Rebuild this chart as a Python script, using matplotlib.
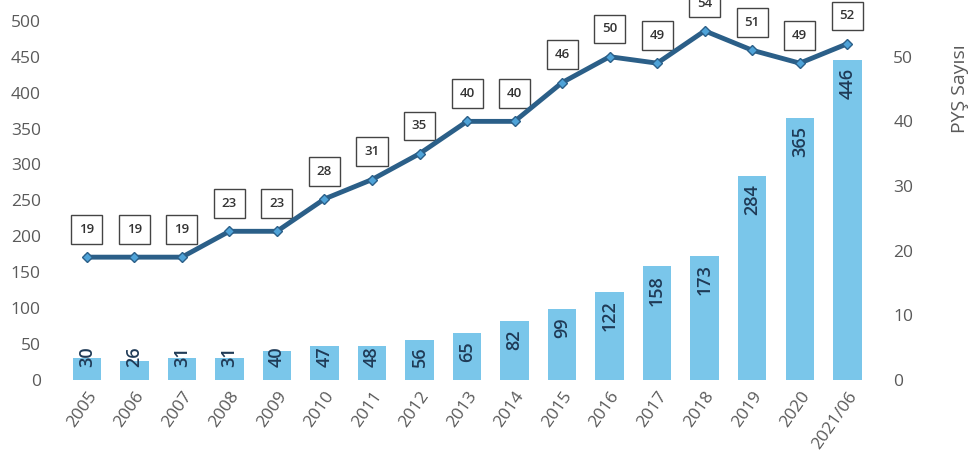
import matplotlib.pyplot as plt
import numpy as np

# Data
years = ["2005", "2006", "2007", "2008", "2009", "2010", "2011", "2012", "2013",
         "2014", "2015", "2016", "2017", "2018", "2019", "2020", "2021/06"]
bar_values = [30, 26, 31, 31, 40, 47, 48, 56, 65, 82, 99, 122, 158, 173, 284, 365, 446]
pys_values = [19, 19, 19, 23, 23, 28, 31, 35, 40, 40, 46, 50, 49, 54, 51, 49, 52]
left_ticks = [0, 50, 100, 150, 200, 250, 300, 350, 400, 450, 500]
right_ticks = [0, 10, 20, 30, 40, 50]

bar_color = "#7ac6ea"
line_color = "#2b5f88"
marker_color = "#4fa3d8"
label_color = "#1f3a56"
tick_color = "#5a5a5a"

plt.rcParams['font.family'] = ['Open Sans', 'DejaVu Sans']

fig = plt.figure(figsize=(9.7, 4.68), dpi=100)
# plot area runs a bit past the top edge (the reference is cropped)
ax = fig.add_axes([0.065, 0.188, 0.833, 0.829])
x = np.arange(len(years))

ax.bar(x, bar_values, width=0.6, color=bar_color, zorder=1)
ax.set_ylim(0, 540)
ax.set_xlim(-0.5, len(years) - 0.5)
ax.set_yticks(left_ticks)
ax.tick_params(axis='y', length=0, pad=16, labelsize=12.5, colors=tick_color)
ax.set_xticks(x)
ax.set_xticklabels(years, rotation=55, ha='right', rotation_mode='anchor',
                   fontsize=12.5, color=tick_color)
ax.tick_params(axis='x', length=0, pad=6)
for s in ax.spines.values():
    s.set_visible(False)

# bar value labels, rotated, inside the top of each bar
for xi, v in zip(x, bar_values):
    ax.annotate(str(v), xy=(xi, max(v, 58)), xytext=(0, -6), textcoords='offset points',
                rotation=90, ha='center', va='top', fontsize=13, fontweight='semibold',
                color=label_color, zorder=3)

ax2 = ax.twinx()
ax2.set_ylim(0, 60)
ax2.set_yticks(right_ticks)
ax2.tick_params(axis='y', length=0, pad=16, labelsize=12.5, colors=tick_color)
for s in ax2.spines.values():
    s.set_visible(False)

ax2.plot(x, pys_values, color=line_color, lw=3.5, marker='D', markersize=5.5,
         markerfacecolor=marker_color, markeredgecolor=line_color, markeredgewidth=1,
         zorder=4)
for xi, v in zip(x, pys_values):
    ax2.annotate(str(v), xy=(xi, v), xytext=(0, 20), textcoords='offset points',
                 ha='center', va='center', fontsize=9.5, fontweight='semibold',
                 color="#333333",
                 bbox=dict(boxstyle='square,pad=0.6', fc='white', ec='#444444', lw=1))

fig.text(0.99, 0.81, "PYŞ Sayısı", rotation=90, ha='center', va='center',
         fontsize=14, color=tick_color)

fig.savefig("out.png", dpi=100)
